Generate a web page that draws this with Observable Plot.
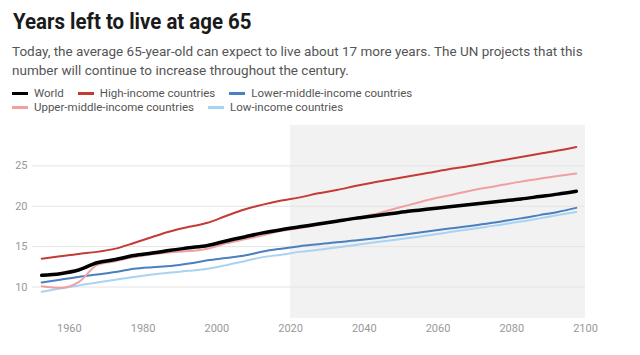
<!DOCTYPE html>
<html>
<head>
<meta charset="utf-8">
<script src="https://cdn.jsdelivr.net/npm/d3@7"></script>
<script src="https://cdn.jsdelivr.net/npm/@observablehq/plot@0.6"></script>
<style>
  html, body { margin: 0; padding: 0; background: #fff; }
  body { width: 640px; height: 355px; position: relative; overflow: hidden; font-family: Roboto, "Noto Sans", sans-serif; }
  #title { position: absolute; left: 13px; top: 10.5px; font-size: 22px; line-height: 22px; font-weight: 700; color: #1a1a1a; white-space: nowrap; transform: scaleX(0.93); transform-origin: left top; }
  #subtitle { position: absolute; left: 12px; top: 42px; width: 595px; font-size: 13.5px; line-height: 18.5px; color: #555; }
  #legend { position: absolute; left: 12px; top: 87px; width: 425px; display: flex; flex-wrap: wrap; font-size: 11.5px; line-height: 13.5px; color: #555; }
  .item { display: flex; align-items: center; margin-right: 14px; }
  .sw { width: 16px; height: 3px; margin-right: 6px; }
  #chart { position: absolute; left: 0; top: 120px; }
</style>
</head>
<body>
<div id="title">Years left to live at age 65</div>
<div id="subtitle">Today, the average 65-year-old can expect to live about 17 more years. The UN projects that this number will continue to increase throughout the century.</div>
<div id="legend"></div>
<div id="chart"></div>
<script>
const years = [1952.5,1957.5,1962.5,1967.5,1972.5,1977.5,1982.5,1987.5,1992.5,1997.5,2002.5,2007.5,2012.5,2017.5,
  2022.5,2027.5,2032.5,2037.5,2042.5,2047.5,2052.5,2057.5,2062.5,2067.5,2072.5,2077.5,2082.5,2087.5,2092.5,2097.5];

const seriesNames = ["World","High-income countries","Lower-middle-income countries","Upper-middle-income countries","Low-income countries"];
const seriesColors = ["#000000","#c43b36","#4a7fc0","#f0a0a0","#a9d3f2"];

const world = [11.45,11.65,12.1,13.0,13.4,13.9,14.2,14.55,14.85,15.15,15.7,16.2,16.7,17.1,
  17.45,17.8,18.15,18.5,18.8,19.1,19.4,19.65,19.9,20.15,20.4,20.65,20.9,21.2,21.5,21.85];
const high = [13.5,13.8,14.1,14.35,14.75,15.45,16.2,16.9,17.45,17.95,18.8,19.6,20.2,20.7,
  21.1,21.6,22.0,22.5,22.95,23.35,23.75,24.15,24.55,24.9,25.3,25.7,26.1,26.5,26.9,27.35];
const lowerMiddle = [10.55,10.9,11.25,11.55,11.85,12.25,12.45,12.6,12.9,13.3,13.6,13.9,14.4,14.75,
  15.05,15.3,15.55,15.75,16.0,16.3,16.6,16.9,17.2,17.5,17.8,18.15,18.5,18.9,19.3,19.8];
const upperMiddle = [10.1,9.9,10.6,12.7,13.2,13.7,14.05,14.3,14.45,14.75,15.4,15.9,16.4,16.95,
  17.3,17.7,18.1,18.5,19.0,19.6,20.2,20.8,21.3,21.8,22.25,22.65,23.05,23.4,23.75,24.05];
const low = [9.4,9.8,10.2,10.55,10.9,11.25,11.55,11.8,12.0,12.25,12.7,13.2,13.7,14.0,
  14.35,14.6,14.9,15.2,15.5,15.8,16.1,16.4,16.75,17.1,17.4,17.75,18.1,18.5,18.9,19.3];

const yTicks = [10,15,20,25];
const xTicks = [1960,1980,2000,2020,2040,2060,2080,2100];
const projection = [{x1: 2020, x2: 2100}];

const seriesValues = [world, high, lowerMiddle, upperMiddle, low];
const drawOrder = [4,2,3,1,0];
const widths = [3.5,2,2,2,2];

// legend
const legend = document.getElementById("legend");
seriesNames.forEach((n,i) => {
  const it = document.createElement("div"); it.className = "item";
  const sw = document.createElement("div"); sw.className = "sw"; sw.style.background = seriesColors[i];
  const t = document.createElement("span"); t.textContent = n;
  it.appendChild(sw); it.appendChild(t); legend.appendChild(it);
});

const rows = [];
drawOrder.forEach(i => years.forEach((y,j) => rows.push({year: y, value: seriesValues[i][j], series: seriesNames[i], idx: i})));

const lineMarks = drawOrder.map(i => Plot.line(rows.filter(d => d.idx === i), {
  x: "year", y: "value", stroke: seriesColors[i], strokeWidth: widths[i], curve: "monotone-x", strokeLinejoin: "round", strokeLinecap: "round"
}));

const chart = Plot.plot({
  width: 640, height: 235,
  marginLeft: 32, marginRight: 55, marginTop: 5, marginBottom: 37,
  style: {fontFamily: "Roboto, sans-serif", fontSize: "11px", color: "#999", background: "transparent"},
  x: {domain: [1950, 2100], ticks: xTicks, tickFormat: d => String(d), tickSize: 0, tickPadding: 6, label: null},
  y: {domain: [6.1, 30], ticks: yTicks, tickSize: 0, tickPadding: 5, label: null},
  marks: [
    Plot.rectX(projection, {x1: "x1", x2: "x2", y1: 6.1, y2: 30, fill: "#f2f2f2"}),
    Plot.ruleY(yTicks, {stroke: "#e4e4e4", strokeWidth: 1}),
    ...lineMarks
  ]
});
document.getElementById("chart").appendChild(chart);
</script>
</body>
</html>
